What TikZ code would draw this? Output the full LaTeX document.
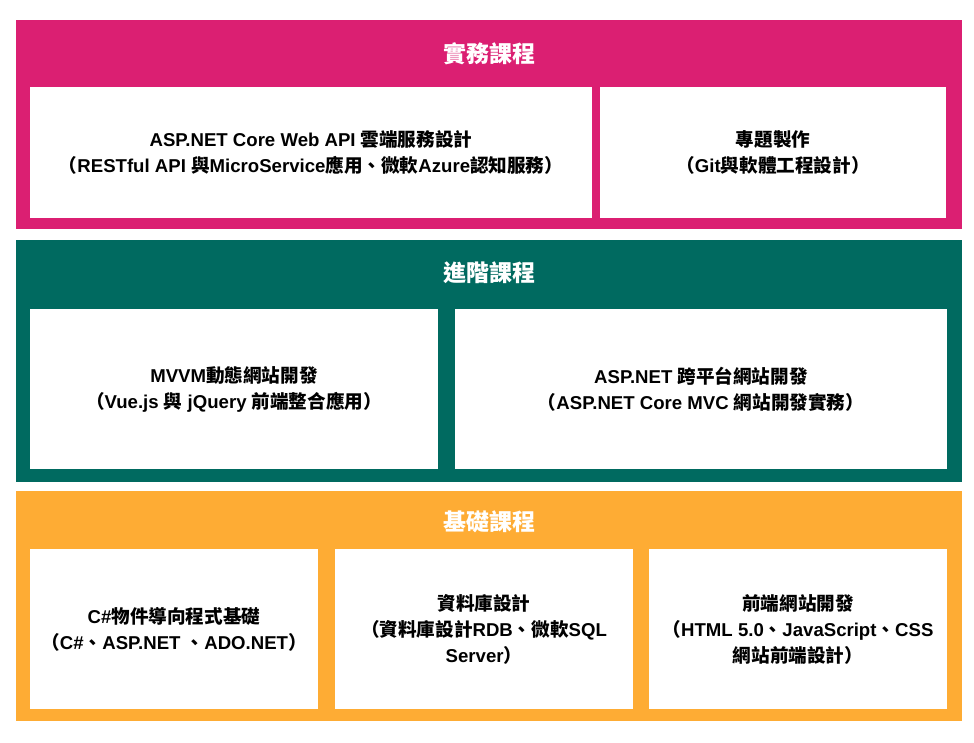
\documentclass[tikz,border=0pt]{standalone}
\usepackage{fontspec}
\setmainfont{Liberation Sans}
\newfontfamily\cjk{Noto Sans CJK TC}
\usepackage{tikz}
\usetikzlibrary{positioning}

\definecolor{shiwu}{HTML}{DB1F72}
\definecolor{jinjie}{HTML}{006A60}
\definecolor{jichu}{HTML}{FEAC34}
\newcommand{\zh}[1]{{\cjk #1}}

\tikzset{
    band/.style={fill=#1, anchor=north west, inner sep=0pt, outer sep=0pt},
    course/.style={fill=white, anchor=north west, inner sep=0pt, outer sep=0pt,
        align=center, font=\bfseries\fontsize{18.6}{26}\selectfont},
    bandtitle/.style={text=white, inner sep=0pt, font=\bfseries\fontsize{23}{26}\selectfont}
}

\begin{document}
\begin{tikzpicture}[x=1pt, y=-1pt]

            \useasboundingbox[fill=white] (0,0) rectangle (974,742);

            \node[band=shiwu, minimum width=946pt, minimum height=209pt] (shiwu) at (16,20) {};
            \node[band=jinjie, minimum width=946pt, minimum height=242pt] (jinjie) at (16,240) {};
            \node[band=jichu, minimum width=946pt, minimum height=230pt] (jichu) at (16,491) {};

            \node[bandtitle] (shiwu_t) at (489,54) {\zh{實務課程}};
            \node[bandtitle] (jinjie_t) at (489,273) {\zh{進階課程}};
            \node[bandtitle] (jichu_t) at (489,522) {\zh{基礎課程}};

            \node[course, minimum width=562pt, minimum height=131pt] (webapi) at (30,87)
                {ASP.NET Core Web API \zh{雲端服務設計}\\
                 \zh{（}RESTful API \zh{與}MicroService\zh{應用、微軟}Azure\zh{認知服務）}};
            \node[course, minimum width=346pt, minimum height=131pt] (zhuanti) at (600,87)
                {\zh{專題製作}\\ \zh{（}Git\zh{與軟體工程設計）}};

            \node[course, minimum width=408pt, minimum height=160pt] (mvvm) at (30,309)
                {MVVM\zh{動態網站開發}\\ \zh{（}Vue.js \zh{與} jQuery \zh{前端整合應用）}};
            \node[course, minimum width=492pt, minimum height=160pt] (mvc) at (455,309)
                {ASP.NET \zh{跨平台網站開發}\\ \zh{（}ASP.NET Core MVC \zh{網站開發實務）}};

            \node[course, minimum width=288pt, minimum height=160pt] (csharp) at (30,549)
                {C\#\zh{物件導向程式基礎}\\ \zh{（}C\#\zh{、}ASP.NET \zh{、}ADO.NET\zh{）}};
            \node[course, minimum width=298pt, minimum height=160pt] (sql) at (335,549)
                {\zh{資料庫設計}\\ \zh{（資料庫設計}RDB\zh{、微軟}SQL\\ Server\zh{）}};
            \node[course, minimum width=298pt, minimum height=160pt] (front) at (649,549)
                {\zh{前端網站開發}\\ \zh{（}HTML 5.0\zh{、}JavaScript\zh{、}CSS\\ \zh{網站前端設計）}};

\end{tikzpicture}
\end{document}
